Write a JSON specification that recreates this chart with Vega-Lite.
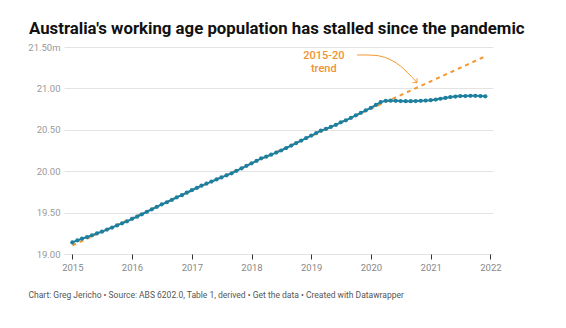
{
  "$schema": "https://vega.github.io/schema/vega-lite/v6.json",
  "width": 429,
  "height": 207,
  "autosize": "none",
  "padding": {"left": 64, "top": 47, "right": 73, "bottom": 74},
  "background": "white",
  "config": {"view": {"stroke": null}, "font": "Roboto"},
  "title": {
    "text": "Australia's working age population has stalled since the pandemic",
    "anchor": "start",
    "frame": "group",
    "dx": -35,
    "dy": 25.5,
    "offset": 17,
    "baseline": "alphabetic",
    "fontSize": 16.8,
    "fontWeight": "bold",
    "font": "Roboto",
    "color": "#111111"
  },
  "datasets": {
    "series": [
      {"date": "2015-01-01", "value": 19.14}, {"date": "2015-02-01", "value": 19.165}, {"date": "2015-03-01", "value": 19.185}, {"date": "2015-04-01", "value": 19.205},
      {"date": "2015-05-01", "value": 19.225}, {"date": "2015-06-01", "value": 19.25}, {"date": "2015-07-01", "value": 19.27}, {"date": "2015-08-01", "value": 19.295},
      {"date": "2015-09-01", "value": 19.32}, {"date": "2015-10-01", "value": 19.345}, {"date": "2015-11-01", "value": 19.37}, {"date": "2015-12-01", "value": 19.395},
      {"date": "2016-01-01", "value": 19.425}, {"date": "2016-02-01", "value": 19.45}, {"date": "2016-03-01", "value": 19.48}, {"date": "2016-04-01", "value": 19.51},
      {"date": "2016-05-01", "value": 19.54}, {"date": "2016-06-01", "value": 19.57}, {"date": "2016-07-01", "value": 19.6}, {"date": "2016-08-01", "value": 19.625},
      {"date": "2016-09-01", "value": 19.655}, {"date": "2016-10-01", "value": 19.685}, {"date": "2016-11-01", "value": 19.71}, {"date": "2016-12-01", "value": 19.74},
      {"date": "2017-01-01", "value": 19.77}, {"date": "2017-02-01", "value": 19.8}, {"date": "2017-03-01", "value": 19.825}, {"date": "2017-04-01", "value": 19.85},
      {"date": "2017-05-01", "value": 19.875}, {"date": "2017-06-01", "value": 19.9}, {"date": "2017-07-01", "value": 19.925}, {"date": "2017-08-01", "value": 19.95},
      {"date": "2017-09-01", "value": 19.975}, {"date": "2017-10-01", "value": 20.005}, {"date": "2017-11-01", "value": 20.035}, {"date": "2017-12-01", "value": 20.065},
      {"date": "2018-01-01", "value": 20.095}, {"date": "2018-02-01", "value": 20.125}, {"date": "2018-03-01", "value": 20.155}, {"date": "2018-04-01", "value": 20.175},
      {"date": "2018-05-01", "value": 20.2}, {"date": "2018-06-01", "value": 20.225}, {"date": "2018-07-01", "value": 20.25}, {"date": "2018-08-01", "value": 20.28},
      {"date": "2018-09-01", "value": 20.31}, {"date": "2018-10-01", "value": 20.34}, {"date": "2018-11-01", "value": 20.37}, {"date": "2018-12-01", "value": 20.4},
      {"date": "2019-01-01", "value": 20.43}, {"date": "2019-02-01", "value": 20.46}, {"date": "2019-03-01", "value": 20.49}, {"date": "2019-04-01", "value": 20.51},
      {"date": "2019-05-01", "value": 20.535}, {"date": "2019-06-01", "value": 20.56}, {"date": "2019-07-01", "value": 20.59}, {"date": "2019-08-01", "value": 20.615},
      {"date": "2019-09-01", "value": 20.645}, {"date": "2019-10-01", "value": 20.675}, {"date": "2019-11-01", "value": 20.705}, {"date": "2019-12-01", "value": 20.735},
      {"date": "2020-01-01", "value": 20.765}, {"date": "2020-02-01", "value": 20.8}, {"date": "2020-03-01", "value": 20.835}, {"date": "2020-04-01", "value": 20.85},
      {"date": "2020-05-01", "value": 20.852}, {"date": "2020-06-01", "value": 20.85}, {"date": "2020-07-01", "value": 20.847}, {"date": "2020-08-01", "value": 20.845},
      {"date": "2020-09-01", "value": 20.845}, {"date": "2020-10-01", "value": 20.847}, {"date": "2020-11-01", "value": 20.85}, {"date": "2020-12-01", "value": 20.853},
      {"date": "2021-01-01", "value": 20.858}, {"date": "2021-02-01", "value": 20.865}, {"date": "2021-03-01", "value": 20.875}, {"date": "2021-04-01", "value": 20.885},
      {"date": "2021-05-01", "value": 20.895}, {"date": "2021-06-01", "value": 20.902}, {"date": "2021-07-01", "value": 20.907}, {"date": "2021-08-01", "value": 20.908},
      {"date": "2021-09-01", "value": 20.91}, {"date": "2021-10-01", "value": 20.91}, {"date": "2021-11-01", "value": 20.908}, {"date": "2021-12-01", "value": 20.905}
    ],
    "trend": [
      {"date": "2015-01-01", "value": 19.104},
      {"date": "2021-12-01", "value": 21.387}
    ],
    "arrow": [
      {"date": "2019-10-09", "value": 21.403},
      {"date": "2020-02-25", "value": 21.391},
      {"date": "2020-06-07", "value": 21.303},
      {"date": "2020-08-27", "value": 21.162},
      {"date": "2020-10-08", "value": 21.069}
    ],
    "arrowhead": [
      {"date": "2020-10-08", "value": 21.069}
    ],
    "labels": [
      {"date": "2019-03-19", "value": 21.352, "label": "2015-20"},
      {"date": "2019-03-19", "value": 21.195, "label": "trend"}
    ]
  },
  "encoding": {
    "x": {
      "field": "date",
      "type": "temporal",
      "scale": {
        "type": "utc",
        "domain": [
          {"year": 2014, "month": 11, "date": 11, "utc": true},
          {"year": 2022, "month": 1, "date": 17, "utc": true}
        ]
      },
      "axis": {
        "title": "Chart: Greg Jericho • Source: ABS 6202.0, Table 1, derived • Get the data • Created with Datawrapper",
        "titleX": -36,
        "titleY": 43,
        "titleAlign": "left",
        "titleBaseline": "alphabetic",
        "titleFontSize": 8.5,
        "titleFontWeight": "normal",
        "titleColor": "#555555",
        "titleFont": "Roboto",
        "format": "%Y",
        "tickCount": {"interval": "year", "step": 1},
        "grid": false,
        "domain": false,
        "tickColor": "#333333",
        "tickSize": 5,
        "labelPadding": 3,
        "labelFontSize": 9.5,
        "labelColor": "#888888",
        "labelFont": "Roboto"
      }
    },
    "y": {
      "field": "value",
      "type": "quantitative",
      "scale": {"domain": [19, 21.5], "zero": false, "nice": false},
      "axis": {
        "title": null,
        "values": [19, 19.5, 20, 20.5, 21, 21.5],
        "labelExpr": "datum.value == 21.5 ? '21.50m' : format(datum.value, '.2f')",
        "grid": true,
        "gridColor": "#e3e3e3",
        "domain": false,
        "ticks": false,
        "labelPadding": 4,
        "labelFontSize": 9.5,
        "labelColor": "#999999",
        "labelFont": "Roboto"
      }
    }
  },
  "layer": [
    {"data": {"name": "trend"}, "mark": {"type": "line", "color": "#f5962f", "strokeWidth": 2, "strokeDash": [4, 4]}},
    {"data": {"name": "series"}, "mark": {"type": "line", "color": "#1f7f9f", "strokeWidth": 2}},
    {"data": {"name": "series"}, "mark": {"type": "point", "filled": true, "color": "#1f7f9f", "size": 18, "opacity": 1}},
    {"data": {"name": "arrow"}, "mark": {"type": "line", "color": "#f5962f", "strokeWidth": 1, "interpolate": "cardinal"}},
    {"data": {"name": "arrowhead"}, "mark": {"type": "point", "shape": "M-1,-1L0,0L1,-1", "filled": false, "color": "#f5962f", "strokeWidth": 1, "size": 40, "angle": -41, "opacity": 1}},
    {"data": {"name": "labels"}, "mark": {"type": "text", "color": "#f0922f", "fontSize": 11, "fontWeight": 500, "align": "center", "baseline": "alphabetic", "font": "Roboto"}, "encoding": {"text": {"field": "label"}}}
  ]
}
